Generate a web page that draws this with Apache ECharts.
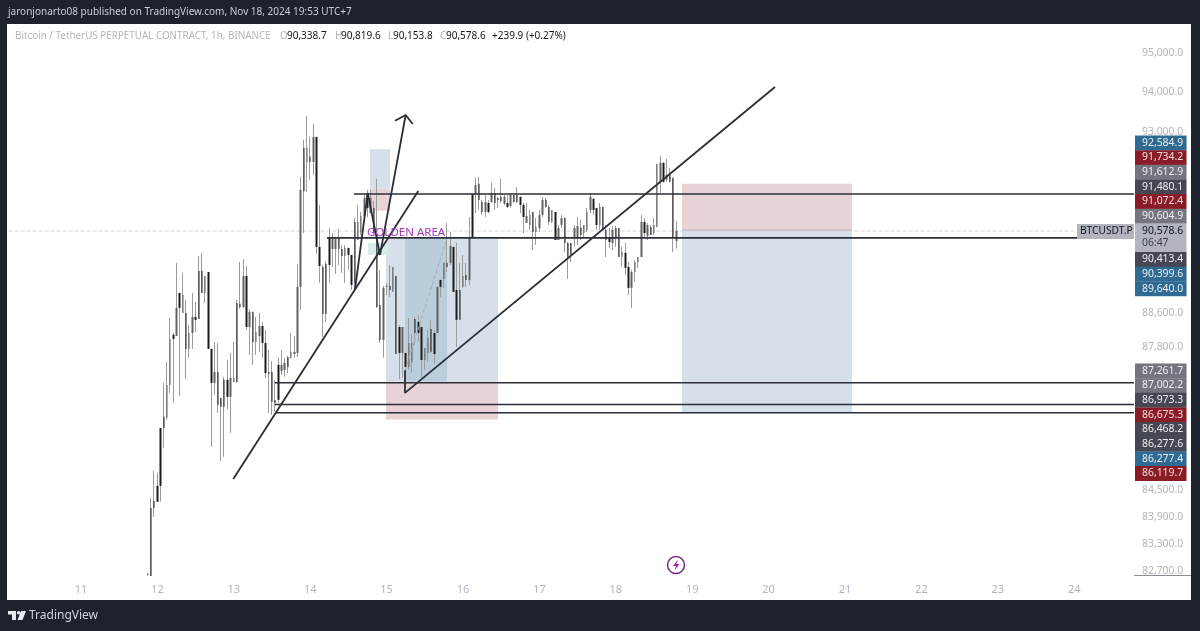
<!DOCTYPE html>
<html>
<head>
<meta charset="utf-8">
<style>html,body{margin:0;padding:0;background:#1e222d}#c{width:1200px;height:631px}</style>
<script src="https://cdn.jsdelivr.net/npm/echarts@6/dist/echarts.min.js"></script>
</head>
<body>
<div id="c"></div>
<script>
// Day-of-month position of the first hourly candle
const firstCandleDay = 11.875;
// Hourly candles: [open, close, low, high]
const ohlc = [
[82615,82640,82590,82660],[84105,82590,82590,84335],[84265,84105,83905,84944],[84605,84245,84245,84900],
[85925,84605,84245,85925],[86185,85925,85470,86970],[86160,86920,86115,87460],[86920,88000,86735,88495],
[88095,88000,86505,88140],[88070,88735,88070,89810],[89090,88735,86665,89090],[88615,89040,88615,89570],
[88615,87765,87060,88925],[87765,88140,87555,88330],[88140,88520,87765,89090],[88520,88450,88165,88875],
[89615,88470,88470,89975],[89615,89090,89090,90050],[89090,89495,88850,89495],[89590,87765,87765,89590],
[87765,86970,85490,87765],[86970,87225,86690,87925],[87225,86460,86275,87905],[86620,86415,85175,86620],
[87040,86415,85265,87110],[87040,86645,86365,87505],[86645,87085,85815,87670],[86990,87085,86990,87925],
[88850,86990,86970,88925],[88830,88755,88710,89830],[88755,89495,88735,89900],[89495,88280,88210,89735],
[88280,88640,87625,88710],[88640,87925,87390,88640],[87925,88165,87625,88520],[88070,88305,87695,88615],
[88305,87905,87555,88400],[87905,87200,87085,88210],[87225,87180,86275,87740],[87225,86530,86230,87480],
[86575,86505,86300,87040],[87390,86575,86505,87555],[87248,87390,87155,87740],[87270,87435,87110,87555],
[87575,87340,87200,87600],[87555,87695,87530,88140],[87645,87695,87555,88070],[87670,89235,87575,89785],
[89235,91580,88685,91900],[92620,91550,90530,92820],[92270,92620,91530,93410],[92400,92270,91830,92890],
[92270,92890,91950,93210],[92890,90195,90025,92890],[90195,89735,89330,91215],[89710,88590,88045,89760],
[89785,88590,88400,89855],[90410,89760,89330,90650],[90145,90410,89710,90530],[90145,90385,89545,90435],
[90410,90145,89760,90630],[90145,89975,89570,90240],[89975,90170,89330,90240],[90170,90000,89640,90170],
[90000,89280,89160,90000],[90800,89330,89115,90895],[90360,90800,90360,91215],[90555,90945,90480,91040],
[90945,91385,90895,91455],[91505,91140,90920,91580],[91015,91385,91015,91580],[91140,90530,90530,91310],
[90480,88755,88735,91850],[88805,87975,87905,89640],[87975,89210,87555,89260],[89235,89260,89040,89330],
[89260,89160,88995,89760],[89115,89710,89115,89710],[89495,87645,87645,89495],[88280,87670,87060,88330],
[87670,88280,87085,88280],[87670,87340,87040,87670],[87340,87905,87270,88495],[87460,87905,87200,88115],
[88470,88140,87855,88520],[88400,88140,87950,88545],[88280,87505,87110,88280],[87505,87785,87270,87785],
[87670,88020,87460,88210],[88235,87695,87670,88450],[88140,87645,87435,88210],[88140,89235,88140,89235],
[89400,89235,88995,89400],[89425,89810,89210,89810],[89810,89710,89590,90775],[89810,90220,89760,90555],
[90195,89115,89115,90195],[89160,88450,87810,90290],[89160,88450,88450,89810],[89235,89495,89210,90000],
[89520,89400,89235,89810],[89400,90410,89280,90920],[91480,90410,90410,91480],[91480,91700,91015,91880],
[91730,91335,91090,91900],[91285,91040,90970,91335],[91040,91285,90920,91455],[91260,91040,91015,91335],
[91285,91505,91260,91760],[91505,91260,91090,91630],[91385,91335,91140,91410],[91410,91310,91260,91850],
[91240,91410,91215,91455],[91260,91165,91140,91455],[91190,91455,91140,91505],[91455,91285,91260,91455],
[91455,91285,91260,91650],[91410,91215,91015,91410],[91215,90920,90530,91260],[90775,90945,90775,91260],
[90725,90970,90605,91090],[91040,90555,90120,91040],[90555,90675,90240,90895],[90650,90970,90555,91090],
[90970,91335,90920,91410],[91335,91165,91140,91385],[91165,90800,90725,91215],[90800,91090,90775,91090],
[91040,90360,90360,91040],[90360,90650,90360,90725],[90725,90895,90650,90970],[90895,90290,90070,90920],
[90290,89950,89425,90315],[90290,90000,89830,90290],[90410,90650,90195,90725],[90435,90700,90240,90920],
[90650,90480,90360,90850],[90530,90725,90410,90725],[90605,91040,90555,91140],[91090,91410,91015,91505],
[91360,91090,90970,91385],[91140,90725,90605,91140],[90725,91165,90605,91260],[91165,90605,90605,91165],
[90605,90360,89950,90725],[90410,90315,90170,90650],[90290,90605,90120,90700],[90650,90435,90195,90700],
[90650,89950,89950,90650],[89950,90070,89710,90195],[90050,89690,89520,90290],[89710,89210,89040,89830],
[89210,89590,88735,89640],[89590,89830,89355,89880],[89830,89950,89690,89950],[89950,90800,89950,90970],
[90800,90530,90435,90895],[90460,90725,90360,90775],[90675,90480,90480,90725],[90530,90725,90480,90895],
[90675,92220,90675,92220],[91780,92250,91505,92420],[92250,91780,91760,92250],[91830,91950,91780,92350],
[91950,91780,91760,92120],[91880,90410,90070,91880],[90338.7,90578.6,90153.8,90819.6]
];
const lastPrice = 90578.6;
const xDayTicks = [11,12,13,14,15,16,17,18,19,20,21,22,23,24];
const priceTicks = [95000,94000,93000,88600,87800,84500,83900,83300,82700];
// Drawn lines as [day, price] pairs
const levelLines = [
 [[14.573,91480.1],[24.783,91480.1]],
 [[14.22,90413.4],[24.783,90413.4]],
 [[13.539,86973.3],[24.783,86973.3]],
 [[13.539,86468.2],[24.783,86468.2]],
 [[13.539,86277.6],[24.783,86277.6]]
];
const trendLines = [
 [[12.993,84763],[15.415,91554]],
 [[15.241,87261.7],[15.241,86737],[20.084,94139]],
 [[14.586,89162],[14.753,91505],[14.914,90000],[15.25,93436]],
 [[15.11,93294],[15.25,93436],[15.342,93211]]
];
const dashedPath = [[15.241,87261.7],[15.791,90399.6]];
// Zones: [startDay, endDay, topPrice, bottomPrice]
const blueZones = [[14.783,15.045,92584.9,91612.9],[14.992,16.458,90399.6,87002.2],[18.866,21.092,90604.9,86277.4]];
const deepBlueZones = [[15.241,15.791,90399.6,87002.2]];
const redZones = [[14.783,15.045,91612.9,91072.4],[14.992,16.458,87002.2,86119.7],[18.866,21.092,91734.2,90604.9]];
const tealZones = [[14.757,15.018,90290,90000]];
// Price tags on the right scale, top to bottom
const upperTags = ['92,584.9','91,734.2','91,612.9','91,480.1','91,072.4','90,604.9'];
const upperKinds = ['blue','red','grey','dark','red','grey'];
const middleTags = ['90,413.4','90,399.6','89,640.0'];
const middleKinds = ['dark','blue','blue'];
const lowerTags = ['87,261.7','87,002.2','86,973.3','86,675.3','86,468.2','86,277.6','86,277.4','86,119.7'];
const lowerKinds = ['grey','grey','dark','red','dark','dark','blue','red'];
const headerText = 'jaronjonarto08 published on TradingView.com, Nov 18, 2024 19:53 UTC+7';
const legendTitle = 'Bitcoin / TetherUS PERPETUAL CONTRACT, 1h, BINANCE';
const legendLetters = ['O','H','L','C'];
const legendValues = ['90,338.7','90,819.6','90,153.8','90,578.6'];
const legendChange = '+239.9 (+0.27%)';

const FONT = '"Noto Sans", sans-serif';
const tagFill = {blue:'#2f6a92', red:'#8a1c28', grey:'#73757f', dark:'#454852'};
const tagText = {blue:'#e8eef3', red:'#f3d9da', grey:'#eeeef0', dark:'#eeeef0'};

const candleRows = ohlc.map((c,i)=>[firstCandleDay+i/24,c[0],c[1],c[2],c[3]]);
const bodyRows = ohlc.map((c,i)=>[firstCandleDay+i/24,c[0],c[1],Math.min(c[0],c[1]),Math.max(c[0],c[1])]);

function zoneSeries(data,color,z){
  return {type:'custom',data,silent:true,z,encode:{x:[0,1],y:[2,3]},clip:true,
    renderItem(params,api){
      const a=api.coord([api.value(0),api.value(2)]),b=api.coord([api.value(1),api.value(3)]);
      return {type:'rect',shape:{x:a[0],y:a[1],width:b[0]-a[0],height:b[1]-a[1]},style:{fill:color}};
    }};
}
function lineSeries(data,color,width,z,type){
  return {type:'line',data,showSymbol:false,symbol:'none',silent:true,z,animation:false,
    lineStyle:{color,width,type:type||'solid'}};
}
function txt(x,y,text,fill,size,extra){
  return Object.assign({type:'text',x,y,z:100,silent:true,
    style:{text,fill,font:size+'px '+FONT,textVerticalAlign:'middle'}},extra||{});
}
const g=[];
g.push({type:'rect',z:-10,silent:true,shape:{x:7,y:24,width:1184,height:576},style:{fill:'#ffffff'}});
g.push(txt(8,12,headerText,'#c9ccd3',10));
g.push(txt(15,36,legendTitle,'#b2b5be',9.85));
const letterX=[280,335,388,440], valueX=[287,341,393,446];
legendLetters.forEach((p,i)=>{g.push(txt(letterX[i],36,p,'#b2b5be',10));g.push(txt(valueX[i],36,legendValues[i],'#131722',10));});
g.push(txt(492,36,legendChange,'#131722',10));
function tagColumn(labels,kinds,top){
  const h=14.65;
  labels.forEach((t,i)=>{
    const y=top+i*h;
    g.push({type:'rect',z:90,silent:true,shape:{x:1135,y,width:51.5,height:h+0.3},style:{fill:tagFill[kinds[i]]}});
    g.push(txt(1142,y+h/2,t,tagText[kinds[i]],10.4));
  });
}
tagColumn(upperTags,upperKinds,135.5);
tagColumn(middleTags,middleKinds,252);
tagColumn(lowerTags,lowerKinds,363.5);
g.push({type:'rect',z:90,silent:true,shape:{x:1135,y:223.5,width:51.5,height:28.5},style:{fill:'#b2b5be'}});
g.push(txt(1142,231,'90,578.6','#131722',10.4));
g.push(txt(1142,243,'06:47','#3c3f48',10.4));
g.push({type:'rect',z:90,silent:true,shape:{x:1077,y:224,width:57,height:15},style:{fill:'#b2b5be'}});
g.push(txt(1080,231.5,'BTCUSDT.P','#131722',10.2));
g.push({type:'line',z:90,silent:true,shape:{x1:1134,y1:575.5,x2:1191,y2:575.5},style:{stroke:'#8a8d96',lineWidth:1}});
g.push(txt(367,233,'GOLDEN AREA','#a23cb8',11.5));
g.push({type:'circle',z:90,silent:true,shape:{cx:676,cy:565,r:8.5},style:{fill:'#fff',stroke:'#6d2a82',lineWidth:1.5}});
g.push({type:'polygon',z:91,silent:true,shape:{points:[[678,559.5],[673,566],[676,566],[674.5,570.5],[679.5,564],[676.5,564]]},style:{fill:'#9c27b0'}});
// TradingView mark and name
g.push({type:'polygon',z:90,silent:true,shape:{points:[[8,611],[16,611],[16,620],[12,620],[12,614.5],[8,614.5]]},style:{fill:'#e8eaef'}});
g.push({type:'circle',z:90,silent:true,shape:{cx:18.6,cy:612.8,r:1.8},style:{fill:'#e8eaef'}});
g.push({type:'polygon',z:90,silent:true,shape:{points:[[21,611],[26,611],[22.5,620],[17.5,620]]},style:{fill:'#e8eaef'}});
g.push(txt(29,616,'TradingView','#d1d4dc',12));

const series=[
  zoneSeries(blueZones,'#d6e0ea',1),
  zoneSeries(deepBlueZones,'#b9cdda',1.1),
  zoneSeries(redZones,'#e8d3d6',1),
  zoneSeries(tealZones,'#d8ecec',1),
  lineSeries([[10.05,lastPrice],[24.04,lastPrice]],'#d6d7da',1,1.5,'dashed'),
  lineSeries([[18.866,90604.9],[21.092,90604.9]],'#cdbcc8',1.5,1.6),
  {type:'candlestick',data:candleRows,encode:{x:0,y:[1,2,3,4]},barWidth:1,silent:true,z:3,
    itemStyle:{color:'#9c9c9c',color0:'#9c9c9c',borderColor:'#9c9c9c',borderColor0:'#9c9c9c',borderWidth:1}},
  {type:'candlestick',data:bodyRows,encode:{x:0,y:[1,2,3,4]},barWidth:2,silent:true,z:4,
    itemStyle:{color:'#626262',color0:'#1c1c1c',borderColor:'#626262',borderColor0:'#1c1c1c',borderWidth:0}},
  lineSeries(dashedPath,'#a9adb5',1,4.5,'dashed')
];
levelLines.forEach(l=>series.push(lineSeries(l,'#2a2e39',1.6,5)));
trendLines.forEach(l=>series.push(lineSeries(l,'#2a2e39',1.8,5)));

const chart=echarts.init(document.getElementById('c'));
chart.setOption({
  animation:false,
  backgroundColor:'#1e222d',
  tooltip:{show:false},
  grid:{left:4.6,top:24,width:1129.4,height:551,containLabel:false},
  xAxis:{type:'value',min:10,max:24.783,interval:1,splitLine:{show:false},axisLine:{show:false},axisTick:{show:false},
    axisLabel:{customValues:xDayTicks,color:'#b2b5be',fontSize:11,fontFamily:FONT,margin:9,formatter:v=>String(Math.round(v))}},
  yAxis:{type:'log',position:'right',min:82610,max:95740,splitLine:{show:false},axisLine:{show:false},axisTick:{show:false},
    axisLabel:{customValues:priceTicks,color:'#b2b5be',fontSize:10.4,fontFamily:FONT,margin:8,align:'left',
      formatter:v=>Number(v).toLocaleString('en-US',{minimumFractionDigits:1,maximumFractionDigits:1})}},
  graphic:{elements:g},
  series
});
</script>
</body>
</html>
